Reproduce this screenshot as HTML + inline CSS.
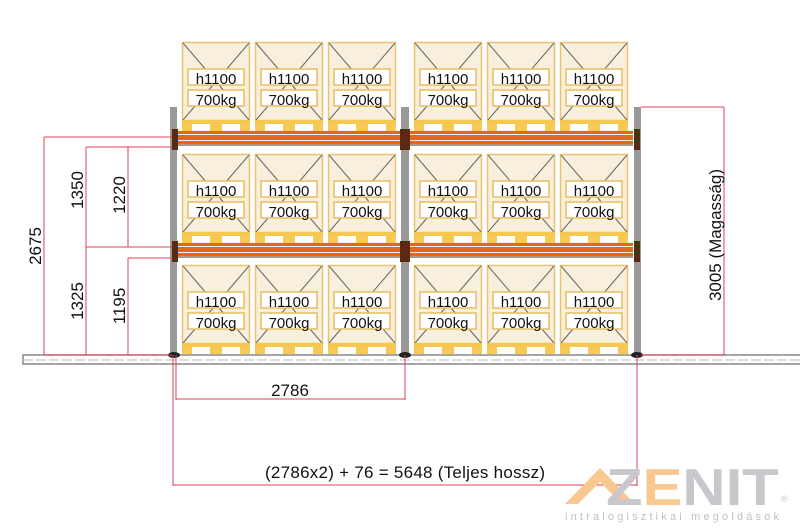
<!DOCTYPE html>
<html><head><meta charset="utf-8"><style>
html,body{margin:0;padding:0;background:#fff;width:800px;height:531px;overflow:hidden}
svg{display:block;font-family:"Liberation Sans",sans-serif}
</style></head><body>
<svg width="800" height="531" viewBox="0 0 800 531" xmlns="http://www.w3.org/2000/svg">
<defs>
<g id="bx">
<rect x="0.5" y="0.5" width="67" height="78" fill="#f8efdd" stroke="#e9c272" stroke-width="1.5"/>
<line x1="1" y1="1" x2="67" y2="78" stroke="#666" stroke-width="1"/>
<line x1="67" y1="1" x2="1" y2="78" stroke="#666" stroke-width="1"/>
<rect x="6" y="27" width="56" height="16" fill="#fff" stroke="#e6bd62" stroke-width="1.5"/>
<rect x="6" y="48" width="56" height="16" fill="#fff" stroke="#e6bd62" stroke-width="1.5"/>
<rect x="0" y="78" width="68" height="4" fill="#f6c84f"/>
<rect x="0" y="82" width="10" height="7" fill="#f7c957"/>
<rect x="28" y="82" width="12" height="7" fill="#f7c957"/>
<rect x="58" y="82" width="10" height="7" fill="#f7c957"/>
</g>
<g id="beam">
<rect x="0" y="0" width="224" height="16" fill="#f0f0f0"/>
<rect x="0" y="1" width="224" height="3" fill="#e8641c"/>
<rect x="0" y="5" width="224" height="5" fill="#e8641c"/>
<rect x="0" y="11" width="224" height="3" fill="#e8641c"/>
<line x1="0" y1="15" x2="224" y2="15" stroke="#6a3a1a"/>
</g>
</defs>
<rect x="23" y="355" width="780" height="9" fill="#fff" stroke="#888" stroke-width="1.5"/>
<line x1="23" y1="360" x2="800" y2="360" stroke="#bbb" stroke-dasharray="10 3"/>
<rect x="170" y="107" width="7" height="248" fill="#999"/>
<rect x="401" y="107" width="8" height="248" fill="#999"/>
<rect x="634" y="107" width="7" height="248" fill="#999"/>
<use href="#beam" x="177" y="130"/><use href="#beam" x="409" y="130"/>
<use href="#beam" x="177" y="242"/><use href="#beam" x="409" y="242"/>
<g fill="#5a2a10">
<rect x="172" y="129" width="6" height="21"/><rect x="400" y="129" width="10" height="21"/><rect x="634" y="129" width="6" height="21"/>
<rect x="172" y="241" width="6" height="21"/><rect x="400" y="241" width="10" height="21"/><rect x="634" y="241" width="6" height="21"/>
</g>
<g fill="#222"><ellipse cx="174" cy="355" rx="6" ry="3"/><ellipse cx="405" cy="355" rx="6" ry="3"/><ellipse cx="637" cy="355" rx="6" ry="3"/></g>
<g>
<use href="#bx" x="182" y="42"/><use href="#bx" x="255" y="42"/><use href="#bx" x="328" y="42"/>
<use href="#bx" x="414" y="42"/><use href="#bx" x="487" y="42"/><use href="#bx" x="560" y="42"/>
<use href="#bx" x="182" y="154"/><use href="#bx" x="255" y="154"/><use href="#bx" x="328" y="154"/>
<use href="#bx" x="414" y="154"/><use href="#bx" x="487" y="154"/><use href="#bx" x="560" y="154"/>
<use href="#bx" x="182" y="265"/><use href="#bx" x="255" y="265"/><use href="#bx" x="328" y="265"/>
<use href="#bx" x="414" y="265"/><use href="#bx" x="487" y="265"/><use href="#bx" x="560" y="265"/>
</g>
<g font-size="15" text-anchor="middle" fill="#111">
<text x="216" y="84">h1100</text><text x="289" y="84">h1100</text><text x="362" y="84">h1100</text><text x="448" y="84">h1100</text><text x="521" y="84">h1100</text><text x="594" y="84">h1100</text>
<text x="216" y="105">700kg</text><text x="289" y="105">700kg</text><text x="362" y="105">700kg</text><text x="448" y="105">700kg</text><text x="521" y="105">700kg</text><text x="594" y="105">700kg</text>
<text x="216" y="196">h1100</text><text x="289" y="196">h1100</text><text x="362" y="196">h1100</text><text x="448" y="196">h1100</text><text x="521" y="196">h1100</text><text x="594" y="196">h1100</text>
<text x="216" y="217">700kg</text><text x="289" y="217">700kg</text><text x="362" y="217">700kg</text><text x="448" y="217">700kg</text><text x="521" y="217">700kg</text><text x="594" y="217">700kg</text>
<text x="216" y="307">h1100</text><text x="289" y="307">h1100</text><text x="362" y="307">h1100</text><text x="448" y="307">h1100</text><text x="521" y="307">h1100</text><text x="594" y="307">h1100</text>
<text x="216" y="328">700kg</text><text x="289" y="328">700kg</text><text x="362" y="328">700kg</text><text x="448" y="328">700kg</text><text x="521" y="328">700kg</text><text x="594" y="328">700kg</text>
</g>
<g stroke="#e0405a" stroke-width="1" fill="none">
<line x1="44" y1="137" x2="172" y2="137"/><line x1="44" y1="137" x2="44" y2="355"/>
<line x1="86" y1="147" x2="172" y2="147"/><line x1="86" y1="147" x2="86" y2="355"/>
<line x1="86" y1="247" x2="172" y2="247"/>
<line x1="128" y1="147" x2="128" y2="247"/>
<line x1="128" y1="258" x2="172" y2="258"/><line x1="128" y1="258" x2="128" y2="355"/>
<line x1="44" y1="355" x2="172" y2="355"/>
<line x1="641" y1="107" x2="724" y2="107"/><line x1="724" y1="107" x2="724" y2="355"/><line x1="641" y1="355" x2="724" y2="355"/>
<line x1="173" y1="355" x2="173" y2="486"/><line x1="176" y1="355" x2="176" y2="400"/>
<line x1="405" y1="355" x2="405" y2="400"/><line x1="176" y1="399" x2="405" y2="399"/>
<line x1="637" y1="355" x2="637" y2="486"/><line x1="173" y1="485" x2="637" y2="485"/>
</g>
<g font-size="17" fill="#111" text-anchor="middle">
<text transform="translate(41,246) rotate(-90)">2675</text>
<text transform="translate(83,190) rotate(-90)">1350</text>
<text transform="translate(83,301) rotate(-90)">1325</text>
<text transform="translate(125,195) rotate(-90)">1220</text>
<text transform="translate(125,306) rotate(-90)">1195</text>
<text transform="translate(721,235) rotate(-90)" textLength="132">3005 (Magasság)</text>
<text x="290" y="396">2786</text>
<text x="405" y="478" textLength="280">(2786x2) + 76 = 5648 (Teljes hossz)</text>
</g>
<polygon points="565,504 600,468 635,504 622,504 600,482 578,504" fill="#f8c890"/>
<text transform="translate(606,505) scale(1.15,1)" font-size="52" font-weight="bold" fill="#c8c8cc">Z<tspan fill="#f8c890">E</tspan>NIT</text>
<text x="781" y="502" font-size="9" fill="#c8c8cc">®</text>
<text x="565" y="520" font-size="11" fill="#c0c0c4" textLength="214" lengthAdjust="spacing">intralogisztikai megoldások</text>
</svg>
</body></html>
